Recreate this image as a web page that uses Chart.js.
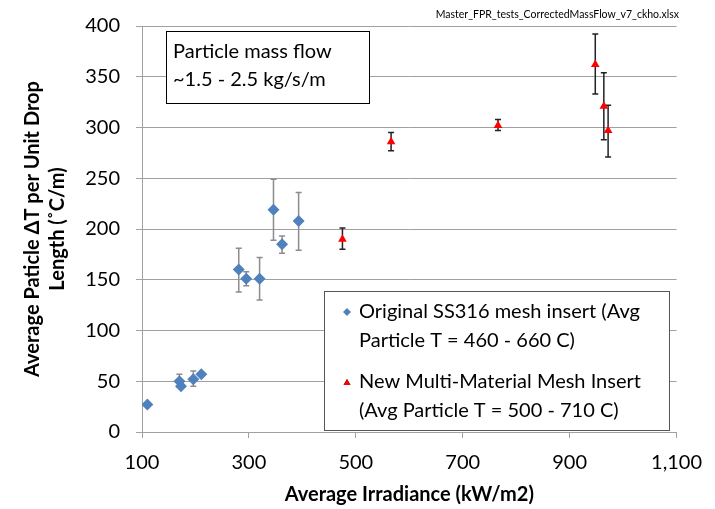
<!DOCTYPE html>
<html lang="en">
  <head>
    <meta charset="UTF-8" />
    <title>Particle dT vs Irradiance</title>
    <style>
      html, body { margin: 0; padding: 0; background: #fff; }
      #wrap { width: 715px; height: 509px; position: relative; }
    </style>
  </head>
  <body>
    <div id="wrap"><canvas id="my-chart"></canvas></div>

    <script src="https://cdn.jsdelivr.net/npm/chart.js"></script>
    <script>
      // original SS316 mesh insert
      const origIrr = [110, 170, 173, 196, 211, 281, 295, 320, 346, 362, 393];
      const origDT = [27, 50, 45, 52, 57, 160, 151, 151, 219, 185, 208];
      const origLow = [27, 44, 45, 45, 56, 138, 144, 130, 189, 176, 179];
      const origHigh = [27, 57, 45, 60, 58, 181, 158, 172, 249, 193, 236];

      // new multi-material mesh insert
      const newIrr = [475, 566, 766, 948, 964, 972];
      const newDT = [190, 286, 302, 362, 321, 297];
      const newLow = [180, 277, 297, 333, 288, 271];
      const newHigh = [201, 295, 308, 392, 354, 322];

      const xTicks = [100, 300, 500, 700, 900, 1100];
      const yTicks = [0, 50, 100, 150, 200, 250, 300, 350, 400];

      const legendLines = [
        ["Original SS316 mesh insert (Avg", "Particle T = 460 - 660 C)"],
        ["New Multi-Material Mesh Insert", "(Avg Particle T = 500 - 710 C)"],
      ];
      const noteLines = ["Particle mass flow", "~1.5 - 2.5 kg/s/m"];
      const fileName = "Master_FPR_tests_CorrectedMassFlow_v7_ckho.xlsx";

      const FONT = "Lato, 'Open Sans', sans-serif";

      const toPoints = (xs, ys) => xs.map((x, i) => ({ x: x, y: ys[i] }));

      const errorBars = {
        id: "errorBars",
        beforeDatasetsDraw(chart) {
          const ctx = chart.ctx;
          const xs = chart.scales.x;
          const ys = chart.scales.y;
          chart.data.datasets.forEach((ds) => {
            ctx.save();
            ctx.strokeStyle = ds.errColor;
            ctx.lineWidth = 1.5;
            ds.data.forEach((p, i) => {
              const px = xs.getPixelForValue(p.x);
              const top = ys.getPixelForValue(ds.errHigh[i]);
              const bot = ys.getPixelForValue(ds.errLow[i]);
              if (bot - top < 1) return;
              ctx.beginPath();
              ctx.moveTo(px, top);
              ctx.lineTo(px, bot);
              ctx.moveTo(px - 3, top);
              ctx.lineTo(px + 3, top);
              ctx.moveTo(px - 3, bot);
              ctx.lineTo(px + 3, bot);
              ctx.stroke();
            });
            ctx.restore();
          });
        },
      };

      const extras = {
        id: "extras",
        afterDraw(chart) {
          const ctx = chart.ctx;
          ctx.save();
          // file name, top right
          ctx.font = "10.5px " + FONT;
          ctx.fillStyle = "#000";
          ctx.textAlign = "right";
          ctx.textBaseline = "middle";
          ctx.fillText(fileName, 679, 15);

          // mass flow note
          ctx.fillStyle = "#fff";
          ctx.fillRect(166, 31, 203, 72);
          ctx.strokeStyle = "#000";
          ctx.lineWidth = 1;
          ctx.strokeRect(166.5, 31.5, 203, 72);
          ctx.fillStyle = "#000";
          ctx.textAlign = "left";
          ctx.font = "20px " + FONT;
          ctx.fillText(noteLines[0], 173, 52);
          ctx.fillText(noteLines[1], 173, 80);

          // legend
          ctx.fillStyle = "#fff";
          ctx.fillRect(324, 291, 345, 139);
          ctx.strokeStyle = "#555";
          ctx.strokeRect(324.5, 291.5, 345, 139);
          const rows = [312, 382];
          chart.data.datasets.forEach((ds, i) => {
            Chart.helpers.drawPoint(ctx, {
              pointStyle: ds.pointStyle,
              radius: 4,
              borderWidth: 0,
            }, 347, rows[i] + (ds.pointStyle === "triangle" ? 1 : 0));
            ctx.fillStyle = ds.backgroundColor;
            ctx.fill();
            ctx.fillStyle = "#000";
            ctx.fillText(legendLines[i][0], 359, rows[i]);
            ctx.fillText(legendLines[i][1], 359, rows[i] + 28.5);
          });
          ctx.restore();
        },
      };

      const chartEle = document.getElementById("my-chart").getContext("2d");

      const chartConfig = {
        type: "scatter",
        data: {
          datasets: [
            {
              label: legendLines[0].join(" "),
              data: toPoints(origIrr, origDT),
              errLow: origLow,
              errHigh: origHigh,
              errColor: "#8c8c8c",
              pointStyle: "rectRot",
              pointRadius: 6,
              pointBorderWidth: 0,
              backgroundColor: "#4F81BD",
              borderColor: "#4F81BD",
            },
            {
              label: legendLines[1].join(" "),
              data: toPoints(newIrr, newDT),
              errLow: newLow,
              errHigh: newHigh,
              errColor: "#222",
              pointStyle: "triangle",
              pointRadius: 5,
              pointBorderWidth: 0,
              backgroundColor: "#FF0000",
              borderColor: "#FF0000",
            },
          ],
        },
        options: {
          responsive: true,
          maintainAspectRatio: false,
          animation: false,
          layout: { padding: { top: 21, right: 37, bottom: 0, left: 0 } },
          plugins: {
            legend: { display: false },
            tooltip: { enabled: false },
          },
          scales: {
            x: {
              type: "linear",
              min: 100,
              max: 1100,
              afterFit: (s) => { s.height = 77; },
              afterBuildTicks: (s) => { s.ticks = xTicks.map((v) => ({ value: v })); },
              ticks: {
                color: "#000",
                padding: 13,
                font: { family: FONT, size: 20 },
                callback: (v) => v.toLocaleString("en-US"),
              },
              grid: {
                drawOnChartArea: false,
                drawTicks: true,
                tickLength: 6,
                color: "#a0a0a0",
              },
              border: { color: "#a0a0a0" },
              title: {
                display: true,
                text: "Average Irradiance (kW/m2)",
                color: "#000",
                padding: { top: 0, bottom: 2 },
                font: { family: FONT, size: 20, weight: "bold" },
              },
            },
            y: {
              min: 0,
              max: 400,
              afterFit: (s) => { s.width = 142; },
              afterBuildTicks: (s) => { s.ticks = yTicks.map((v) => ({ value: v })); },
              ticks: {
                color: "#000",
                padding: 16,
                font: { family: FONT, size: 20, lineHeight: 1 },
              },
              grid: {
                color: "#a0a0a0",
                tickLength: 6,
              },
              border: { color: "#a0a0a0" },
              title: {
                display: true,
                text: ["Average Paticle \u0394T per Unit Drop", "Length (\u02DAC/m)"],
                color: "#000",
                padding: { top: 20, bottom: 0 },
                font: { family: FONT, size: 20, weight: "bold", lineHeight: 1.25 },
              },
            },
          },
        },
        plugins: [errorBars, extras],
      };

      const chart = new Chart(chartEle, chartConfig);
    </script>
  </body>
</html>
